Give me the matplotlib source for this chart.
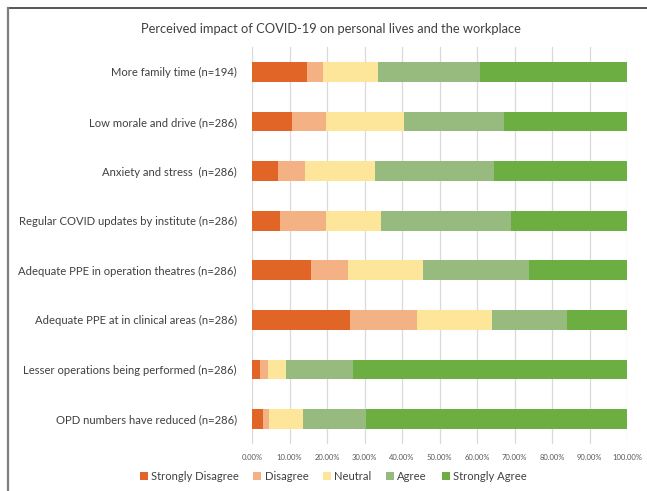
import numpy as np
import matplotlib.pyplot as plt
from matplotlib.lines import Line2D
from matplotlib.ticker import FuncFormatter

plt.rcParams['font.family'] = ['Lato', 'DejaVu Sans']

# survey items, top to bottom
items = [
    "More family time (n=194)",
    "Low morale and drive (n=286)",
    "Anxiety and stress  (n=286)",
    "Regular COVID updates by institute (n=286)",
    "Adequate PPE in operation theatres (n=286)",
    "Adequate PPE at in clinical areas (n=286)",
    "Lesser operations being performed (n=286)",
    "OPD numbers have reduced (n=286)",
]

# percentages
strongly_disagree = [14.7, 10.7, 7.0, 7.4, 15.7, 26.1, 2.1, 2.8]
disagree = [4.3, 8.9, 7.1, 12.4, 9.8, 17.9, 2.1, 1.7]
neutral = [14.7, 20.9, 18.7, 14.6, 20.1, 20.1, 4.9, 9.0]
agree = [27.2, 26.6, 31.6, 34.6, 28.3, 20.0, 17.7, 16.9]
strongly_agree = [39.1, 32.9, 35.6, 31.0, 26.1, 15.9, 73.2, 69.6]

series = {
    "Strongly Disagree": (strongly_disagree, "#E06526"),
    "Disagree": (disagree, "#F4B183"),
    "Neutral": (neutral, "#FDE59A"),
    "Agree": (agree, "#97BB7E"),
    "Strongly Agree": (strongly_agree, "#6DAE43"),
}

fig = plt.figure(figsize=(6.47, 4.91), dpi=100)
ax = fig.add_axes([252 / 647, 1 - 444 / 491, 375 / 647, 397 / 491])

y = np.arange(len(items))
left = np.zeros(len(items))
for name, (vals, col) in series.items():
    ax.barh(y, vals, left=left, height=0.4, color=col, label=name, zorder=2)
    left += np.array(vals)

ax.set_ylim(len(items) - 0.5, -0.5)
ax.set_xlim(0, 100)
ax.set_yticks(y)
ax.set_yticklabels(items, fontsize=8.1, color="#404040")
ax.set_xticks(np.arange(0, 101, 10))
ax.xaxis.set_major_formatter(FuncFormatter(lambda v, p: f"{v:.2f}%"))
ax.tick_params(axis="x", labelsize=5.5, colors="#595959", length=0, pad=7)
ax.tick_params(axis="y", length=0, pad=11)
ax.grid(axis="x", color="#D9D9D9", linewidth=0.9, zorder=0)
for s in ax.spines.values():
    s.set_visible(False)

fig.text(0.512, 1 - 29 / 491, "Perceived impact of COVID-19 on personal lives and the workplace",
         ha="center", va="center", fontsize=9.3, color="#404040")

fig.legend(loc="center", bbox_to_anchor=(0.515, 1 - 476 / 491), ncol=5, frameon=False,
           fontsize=8.1, handlelength=0.7, handleheight=0.7, handletextpad=0.3,
           columnspacing=1.3, labelcolor="#404040")

# frame edges of the screenshot: dark top line, grey left line
fig.add_artist(Line2D([8 / 647, 1], [1 - 8 / 491, 1 - 8 / 491], transform=fig.transFigure,
                      color="#3A3A3A", linewidth=1.2))
fig.add_artist(Line2D([8 / 647, 8 / 647], [0, 1 - 8 / 491], transform=fig.transFigure,
                      color="#7F7F7F", linewidth=1.6))

fig.savefig("out.png", dpi=100)
